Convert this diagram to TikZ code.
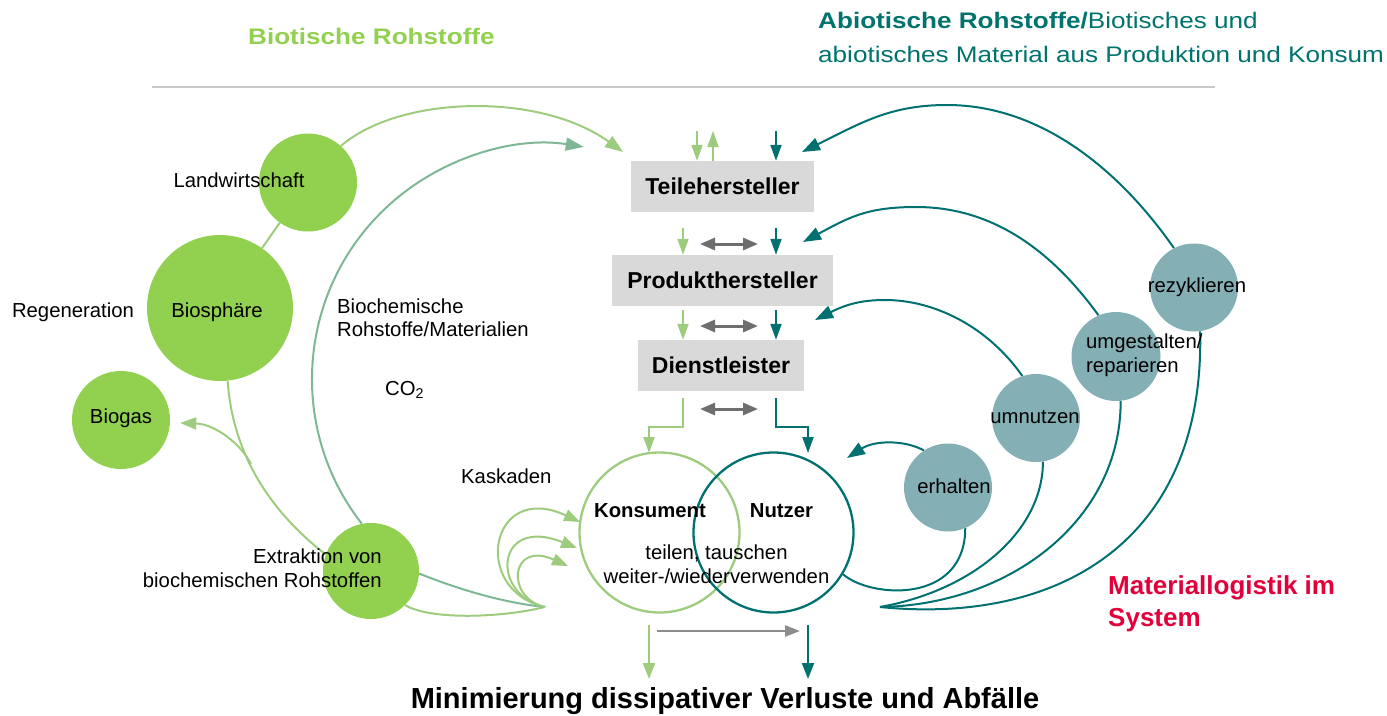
\documentclass[tikz,border=0pt]{standalone}
\usepackage{fontspec}
\setmainfont{Liberation Sans}
\newfontfamily\headfont[FakeStretch=1.16]{Liberation Sans}
\usetikzlibrary{arrows.meta,backgrounds}

\definecolor{leaf}{RGB}{146,208,80}
\definecolor{sage}{RGB}{158,204,126}
\definecolor{sagearc}{RGB}{125,183,150}
\definecolor{tealline}{RGB}{0,112,112}
\definecolor{tealtext}{RGB}{0,115,110}
\definecolor{steel}{RGB}{132,176,181}
\definecolor{boxgray}{RGB}{217,217,217}
\definecolor{midgray}{RGB}{110,110,110}
\definecolor{lightgray}{RGB}{140,140,140}
\definecolor{rulegray}{RGB}{200,200,200}
\definecolor{crimson}{RGB}{226,0,58}

\begin{document}
\begin{tikzpicture}[x=1pt,y=-1pt,
  txt/.style={inner sep=0pt, font=\fontsize{20.3}{24}\selectfont, text=black},
  bubble/.style={circle, fill=leaf, draw=none, inner sep=0pt},
  stage/.style={circle, fill=steel, draw=none, inner sep=0pt},
  ring/.style={circle, fill=none, line width=2.3pt, inner sep=0pt, minimum size=160pt},
  boxnode/.style={rectangle, fill=boxgray, inner sep=0pt, minimum height=51pt,
                  font=\fontsize{23}{27}\selectfont\bfseries},
  gline/.style={draw=sage, line width=2pt},
  bline/.style={draw=sagearc, line width=2pt},
  tline/.style={draw=tealline, line width=2pt},
  arrS/.style={-{Triangle[length=16pt,width=11pt]}},
  arrM/.style={-{Triangle[length=16pt,width=12pt]}},
  arrL/.style={-{Triangle[length=18pt,width=13pt]}},
  swap/.style={draw=midgray, line width=3pt,
               {Triangle[length=15pt,width=12pt]}-{Triangle[length=15pt,width=12pt]}},
]
\useasboundingbox (0,0) rectangle (1387,715);

% ---------- headings ----------
\node[inner sep=0pt, anchor=base west, text=leaf,
      font={\headfont\fontsize{22.5}{26}\selectfont\bfseries}] (hbio) at (248,44) {Biotische Rohstoffe};
\node[inner sep=0pt, anchor=base west, text=tealtext,
      font={\headfont\fontsize{22.5}{26}\selectfont}] (habio1) at (818,28)
      {{\bfseries Abiotische Rohstoffe/}Biotisches und};
\node[inner sep=0pt, anchor=base west, text=tealtext,
      font={\headfont\fontsize{22.5}{26}\selectfont}] (habio2) at (818,62)
      {abiotisches Material aus Produktion und Konsum};

% ---------- biotic cycle ----------
\node[bubble, minimum size=98pt]  (lw)   at (308,182.5) {};
\node[bubble, minimum size=146pt] (bio)  at (220,308) {};
\node[bubble, minimum size=98pt]  (bgas) at (121,420) {};
\node[bubble, minimum size=96pt]  (ext)  at (371,571) {};

\node[txt, anchor=base] (lwl)   at (239,187) {Landwirtschaft};
\node[txt, anchor=base] (biol)  at (217,317) {Biosphäre};
\node[txt, anchor=base] (regl)  at (73,317) {Regeneration};
\node[txt, anchor=base] (bgasl) at (121,423) {Biogas};
\node[txt, anchor=base east] (ext1) at (382,563) {Extraktion von};
\node[txt, anchor=base east] (ext2) at (382,587) {biochemischen Rohstoffen};
\node[txt, anchor=base west] (bch1) at (337,313) {Biochemische};
\node[txt, anchor=base west] (bch2) at (337,336) {Rohstoffe/Materialien};
\node[txt, anchor=base west] (co2)  at (385,395) {CO\textsubscript{2}};
\node[txt, anchor=base west] (kask) at (461,483) {Kaskaden};

% ---------- value chain ----------
\node[boxnode, minimum width=183pt] (teile)  at (722.5,186.5) {Teilehersteller};
\node[boxnode, minimum width=221pt] (prod)   at (722.5,280.5) {Produkthersteller};
\node[boxnode, minimum width=166pt] (dienst) at (721,365.5)   {Dienstleister};

% ---------- use phase ----------
\node[ring, draw=sage]      (kon) at (659.5,532.5) {};
\node[ring, draw=tealline]  (nut) at (773.5,532.5) {};
\node[txt, anchor=base, font=\fontsize{20.3}{24}\selectfont\bfseries] (konl) at (650,517) {Konsument};
\node[txt, anchor=base, font=\fontsize{20.3}{24}\selectfont\bfseries] (nutl) at (781.5,517) {Nutzer};
\node[txt, anchor=base] (share1) at (716.5,559) {teilen, tauschen};
\node[txt, anchor=base] (share2) at (716.5,583) {weiter-/wiederverwenden};

% ---------- technical loops ----------
\node[stage, minimum size=88pt] (rez) at (1194,287.5) {};
\node[stage, minimum size=89pt] (umg) at (1116,356.5) {};
\node[stage, minimum size=88pt] (umn) at (1036,418) {};
\node[stage, minimum size=88pt] (erh) at (948,487.5) {};
\node[txt, anchor=base] (rezl) at (1197,292) {rezyklieren};
\node[txt, anchor=base west] (umgl1) at (1086,348) {umgestalten/};
\node[txt, anchor=base west] (umgl2) at (1086,372) {reparieren};
\node[txt, anchor=base] (umnl) at (1035,423) {umnutzen};
\node[txt, anchor=base] (erhl) at (954,493) {erhalten};

\node[inner sep=0pt, anchor=base west, text=crimson,
      font=\fontsize{26}{31}\selectfont\bfseries] (mat1) at (1108,594) {Materiallogistik im};
\node[inner sep=0pt, anchor=base west, text=crimson,
      font=\fontsize{26}{31}\selectfont\bfseries] (mat2) at (1108,626) {System};

\node[inner sep=0pt, anchor=base, font=\fontsize{29}{34}\selectfont\bfseries] (mini) at (725,708)
      {Minimierung dissipativer Verluste und Abfälle};

% ---------- free ends of connectors ----------
\coordinate (casc) at (545,607);
\coordinate (fork) at (251,464);
\coordinate (conv) at (880,607);
\coordinate (tipLW) at (623,152);
\coordinate (k1) at (580,522);
\coordinate (k2) at (577,548);
\coordinate (k3) at (568,566);
\coordinate (tipR1) at (802,152);
\coordinate (tipR2) at (803,242);
\coordinate (tipR3) at (815,320);
\coordinate (tipR4) at (847,458);

% ---------- connectors ----------
\begin{scope}[on background layer]
  \draw[rulegray, line width=1.2pt] (152,87) -- (1215,87);

  % biotic side
  \draw[gline] (bio) -- (lw);
  \draw[gline, arrL] (lw.48) .. controls (400,95) and (540,92) .. (tipLW);
  \draw[gline] (bio.-84) .. controls (232,445) and (262,505) .. (ext.160);
  \draw[gline, arrM] (fork) .. controls (241,444) and (215,424) .. ([xshift=10pt,yshift=-3pt]bgas.east);
  \draw[gline] (ext.-45) .. controls (430,620) and (500,618) .. (casc);
  \draw[bline] (ext.-3) .. controls (460,590) and (505,603) .. (casc);
  \draw[bline, arrL] (ext.101) arc[start angle=142, end angle=279, radius=235];

  % cascades
  \draw[gline, arrM] (casc) .. controls (470,590) and (490,480) .. (k1);
  \draw[gline, arrM] (casc) .. controls (490,595) and (495,515) .. (k2);
  \draw[gline, arrM] (casc) .. controls (505,598) and (510,540) .. (k3);

  % value chain stubs
  \draw[gline, arrS] (697,131) -- (697,0 |- teile.north);
  \draw[gline, arrS] (713,0 |- teile.north) -- (713,131);
  \draw[tline, arrS] (776,131) -- (776,0 |- teile.north);

  \draw[gline, arrS] (683,228) -- (683,0 |- prod.north);
  \draw[swap] (700,244) -- (758,244);
  \draw[tline, arrS] (776,228) -- (776,0 |- prod.north);

  \draw[gline, arrS] (683,310) -- (683,0 |- dienst.north);
  \draw[swap] (700,326) -- (758,326);
  \draw[tline, arrS] (776,310) -- (776,0 |- dienst.north);

  \draw[gline, arrS] (683,398) -- (683,427) -- (649,427) -- (649,453);
  \draw[swap] (700,409) -- (758,409);
  \draw[tline, arrS] (776,398) -- (776,427) -- (808,427) -- (808,453);

  % losses
  \draw[gline, arrM] (649,625) -- (649,679);
  \draw[tline, arrM] (808,625) -- (808,679);
  \draw[draw=lightgray, line width=2.5pt, -{Triangle[length=15pt,width=11pt]}] (657,631) -- (800,631);

  % technical loops back into the chain
  \draw[tline, arrL] (rez.117) .. controls (1116,165) and (1037,105) .. (947,105)
                               .. controls (890,105) and (861,123) .. (tipR1);
  \draw[tline, arrL] (umg.113) .. controls (1046,243) and (986,207) .. (916,207)
                               .. controls (866,207) and (848,218) .. (tipR2);
  \draw[tline, arrL] (umn.108) .. controls (988,327) and (935,300) .. (885,300)
                               .. controls (860,300) and (845,305) .. (tipR3);
  \draw[tline, arrL] (erh.123) .. controls (905,440) and (875,440) .. (tipR4);

  % collection from the use phase
  \draw[tline] (nut.-31) .. controls (870,598) and (965,605) .. (erh.-67);
  \draw[tline] (umn.-81) .. controls (1043,530) and (975,590) .. (conv);
  \draw[tline] (umg.-84) .. controls (1121,520) and (1010,605) .. (conv);
  \draw[tline] (rez.-82) .. controls (1205,540) and (1060,625) .. (conv);
\end{scope}
\end{tikzpicture}
\end{document}
